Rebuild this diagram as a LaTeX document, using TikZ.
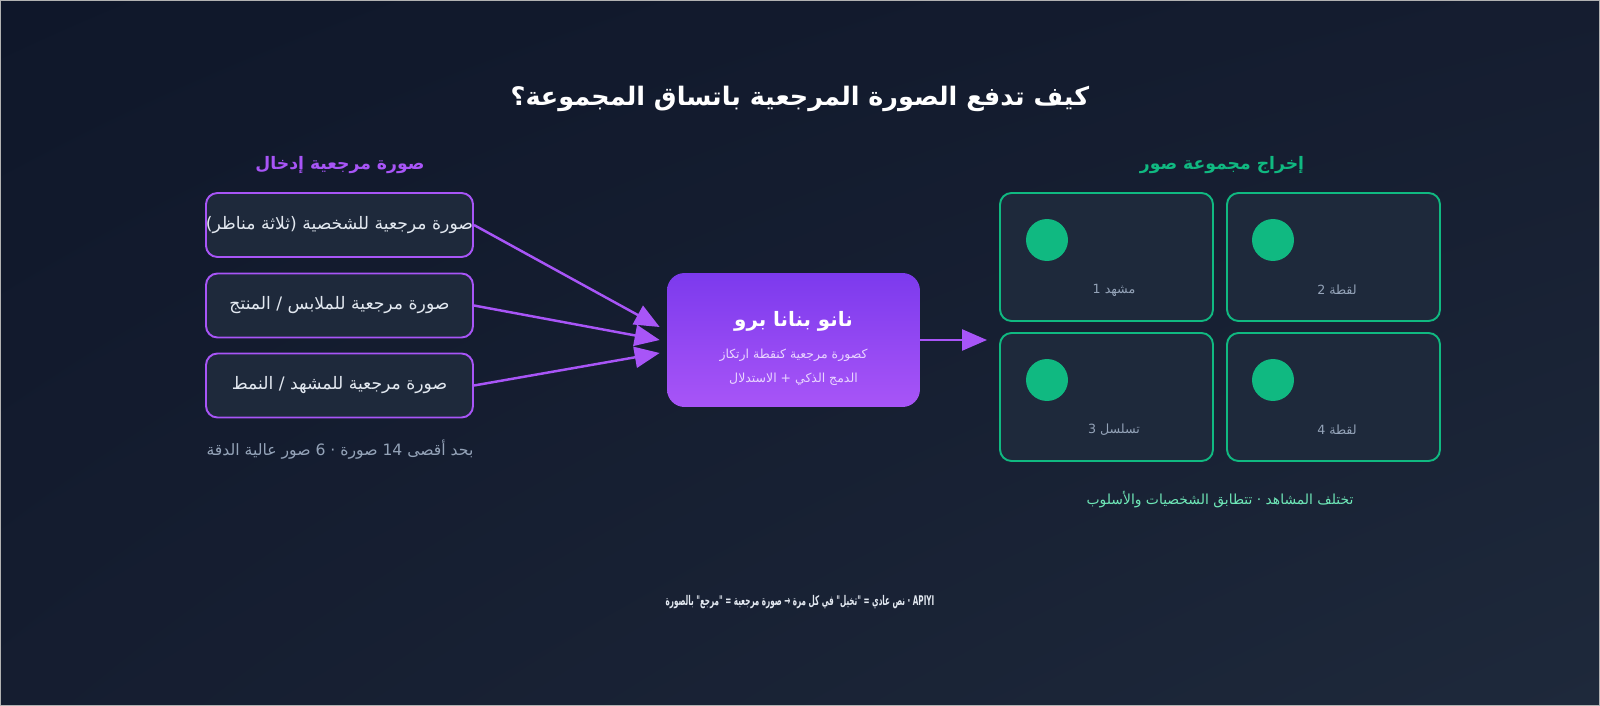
\documentclass[tikz,border=0pt]{standalone}
\usepackage{fontspec}
\setmainfont{DejaVu Sans}
\newfontfamily\arabicfont[Script=Arabic]{DejaVu Sans}
\TeXXeTstate=1
\usetikzlibrary{positioning, arrows.meta, shadings}

\definecolor{bgdark}{HTML}{0F172A}
\definecolor{bgmid}{HTML}{151D30}
\definecolor{bglight}{HTML}{1E293B}
\definecolor{panel}{HTML}{1E293B}
\definecolor{purp}{HTML}{A855F7}
\definecolor{purpdeep}{HTML}{7C3AED}
\definecolor{lilac}{HTML}{E9D5FF}
\definecolor{mint}{HTML}{10B981}
\definecolor{mintlight}{HTML}{6EE7B7}
\definecolor{slate}{HTML}{94A3B8}
\definecolor{boxtext}{HTML}{E2E8F0}

\newcommand{\artext}[1]{\arabicfont\beginR #1\endR}
\newcommand{\fsz}[1]{\fontsize{#1}{1.2\dimexpr#1\relax}\selectfont}

\begin{document}
\begin{tikzpicture}[
    x=0.02cm, y=-0.02cm,
    every node/.style={inner sep=0pt},
    inbox/.style={draw=purp, line width=1.1pt, fill=panel, rounded corners=6.5pt,
      minimum width=5.34cm, minimum height=1.28cm, text=boxtext, font=\fsz{9.8pt}},
    outbox/.style={draw=mint, line width=1.1pt, fill=panel, rounded corners=6.5pt,
      minimum width=4.26cm, minimum height=2.56cm},
    dot/.style={circle, fill=mint, minimum size=0.84cm},
    shotlabel/.style={text=slate, font=\fsz{7.2pt}},
    feed/.style={draw=purp, line width=1.4pt, -{Triangle[length=0.5cm, width=0.42cm]}}
  ]
  % background
  \useasboundingbox (0,0) rectangle (1600,706);
  \shade[upper left=bgdark, upper right=bgmid, lower left=bgmid, lower right=bglight]
    (0,0) rectangle (1600,706);
  \draw[gray!60, line width=0.6pt] (0,0) rectangle (1600,706);

  % title
  \node[text=white, font=\bfseries\fsz{14.5pt}] (title) at (800,99)
    {\artext{كيف تدفع الصورة المرجعية باتساق المجموعة؟}};

  % inputs
  \node[text=purp, font=\bfseries\fsz{9.8pt}] (inhead) at (340,165) {\artext{صورة مرجعية إدخال}};
  \node[inbox] (in1) at (339.5,225) {\artext{صورة مرجعية للشخصية (ثلاثة مناظر)}};
  \node[inbox] (in2) at (339.5,305.5) {\artext{صورة مرجعية للملابس / المنتج}};
  \node[inbox] (in3) at (339.5,385.5) {\artext{صورة مرجعية للمشهد / النمط}};
  \node[text=slate, font=\fsz{8.9pt}] (limit) at (340,450)
    {\artext{بحد أقصى \beginL14\endL{} صورة · \beginL6\endL{} صور عالية الدقة}};

  % model
  \node[rounded corners=10pt, top color=purpdeep, bottom color=purp,
    minimum width=5.06cm, minimum height=2.68cm] (core) at (793.5,340) {};
  \node[text=white, font=\bfseries\fsz{11.3pt}] (coretitle) at (793.5,321) {\artext{نانو بنانا برو}};
  \node[text=lilac, font=\fsz{7.1pt}, below=0.35cm of coretitle] (coreline1) {\artext{كصورة مرجعية كنقطة ارتكاز}};
  \node[text=lilac, font=\fsz{7.1pt}, below=0.21cm of coreline1] (coreline2) {\artext{الدمج الذكي + الاستدلال}};

  \draw[feed] (in1.east) -- ([xshift=-0.14cm, yshift=0.26cm]core.west);
  \draw[feed] (in2.east) -- ([xshift=-0.14cm]core.west);
  \draw[feed] (in3.east) -- ([xshift=-0.14cm, yshift=-0.26cm]core.west);
  \coordinate (outtip) at (987,340);
  \draw[feed] (core.east) -- (outtip);

  % outputs
  \node[text=mint, font=\bfseries\fsz{9.8pt}] (outhead) at (1222,165) {\artext{إخراج مجموعة صور}};
  \node[outbox] (shot1) at (1106.5,257) {};
  \node[outbox] (shot2) at (1333.5,257) {};
  \node[outbox] (shot3) at (1106.5,397) {};
  \node[outbox] (shot4) at (1333.5,397) {};
  \node[dot] (face1) at (1047,240) {};
  \node[dot] (face2) at (1273,240) {};
  \node[dot] (face3) at (1047,380) {};
  \node[dot] (face4) at (1273,380) {};
  \node[shotlabel] (lab1) at (1114,290) {\artext{مشهد \beginL1\endL}};
  \node[shotlabel] (lab2) at (1337,290) {\artext{لقطة \beginL2\endL}};
  \node[shotlabel] (lab3) at (1114,430) {\artext{تسلسل \beginL3\endL}};
  \node[shotlabel] (lab4) at (1337,430) {\artext{لقطة \beginL4\endL}};
  \node[text=mintlight, font=\fsz{7.9pt}] (outnote) at (1220,500)
    {\artext{تختلف المشاهد · تتطابق الشخصيات والأسلوب}};

  % footer
  \node[text=boxtext, font=\bfseries\fsz{7.6pt}] (footer) at (800,602)
    {\scalebox{0.54}[1]{\artext{\beginL APIYI\endL{} · نص عادي = "تخيل" في كل مرة → صورة مرجعية = "مرجع" بالصورة}}};
\end{tikzpicture}
\end{document}
